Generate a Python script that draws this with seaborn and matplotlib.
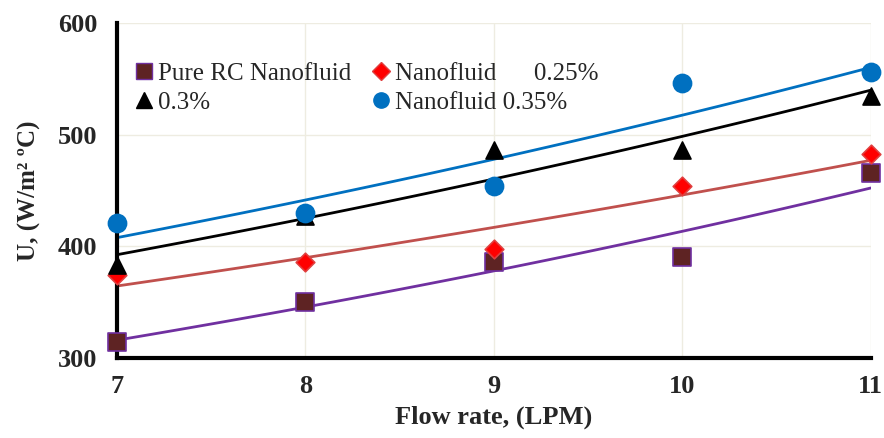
import numpy as np
import pandas as pd
import matplotlib
matplotlib.use("Agg")
import matplotlib.pyplot as plt
import seaborn as sns

flow = [7, 8, 9, 10, 11]
pure_rc = [314, 350, 386, 390, 466]
nf_025 = [374, 386, 398, 454, 483]
nf_03 = [383, 427, 486, 486, 535]
nf_035 = [421, 430, 454, 546, 556]

labels = ["Pure RC Nanofluid", "Nanofluid      0.25%", "0.3%", "Nanofluid 0.35%"]
series = [pure_rc, nf_025, nf_03, nf_035]

sns.set_style("white")
plt.rcParams['font.family'] = ['Liberation Serif', 'DejaVu Serif']

# marker style, face, edge, trendline colour
styles = [
    ("s", "#5E2323", "#7030A0", "#7030A0", 150),
    ("D", "#FF0000", "#E04040", "#C0504D", 90),
    ("^", "#000000", "#000000", "#000000", 150),
    ("o", "#0070C0", "#0070C0", "#0070C0", 170),
]

fig = plt.figure(figsize=(8.84, 4.38), dpi=100)
ax = fig.add_axes([0.132, 0.183, 0.853, 0.764])

handles = []
for lab, vals, (mk, fc, ec, lc, sz) in zip(labels, series, styles):
    df = pd.DataFrame({"x": flow, "y": vals})
    # exponential trendline like the spreadsheet one
    b, a = np.polyfit(df["x"], np.log(df["y"]), 1)
    xs = np.linspace(7, 11, 50)
    ax.plot(xs, np.exp(a + b * xs), color=lc, lw=2, zorder=2)
    sns.scatterplot(data=df, x="x", y="y", marker=mk, s=sz, color=fc,
                    edgecolor=ec, linewidth=1.2, ax=ax, zorder=3, clip_on=False)
    handles.append(plt.Line2D([], [], ls="", marker=mk, markersize=11 if mk != "D" else 9,
                              markerfacecolor=fc, markeredgecolor=ec, label=lab))

ax.set_xlim(7, 11)
ax.set_ylim(300, 600)
ax.set_xticks(flow)
ax.set_yticks([300, 400, 500, 600])
ax.grid(True, color="#EEECE1", lw=1)
ax.set_axisbelow(True)
for s in ["top", "right"]:
    ax.spines[s].set_visible(False)
for s in ["left", "bottom"]:
    ax.spines[s].set_linewidth(3)
    ax.spines[s].set_color("black")
ax.tick_params(length=0, labelsize=19)
ax.tick_params(axis="x", pad=12)
ax.tick_params(axis="y", pad=14)
for t in ax.get_xticklabels() + ax.get_yticklabels():
    t.set_fontweight("bold")

ax.set_xlabel("Flow rate, (LPM)", fontsize=19, fontweight="bold", labelpad=6)
ax.set_ylabel("U, (W/m² ºC)", fontsize=18, fontweight="bold", labelpad=12)

order = [0, 2, 1, 3]
ax.legend([handles[i] for i in order], [labels[i] for i in order], ncol=2,
          frameon=False, fontsize=18, loc="upper left", bbox_to_anchor=(0.0, 0.935),
          handlelength=0.8, handletextpad=0.15, columnspacing=0.8,
          labelspacing=0.25, borderaxespad=0.3)

fig.savefig("out.png", dpi=100)
